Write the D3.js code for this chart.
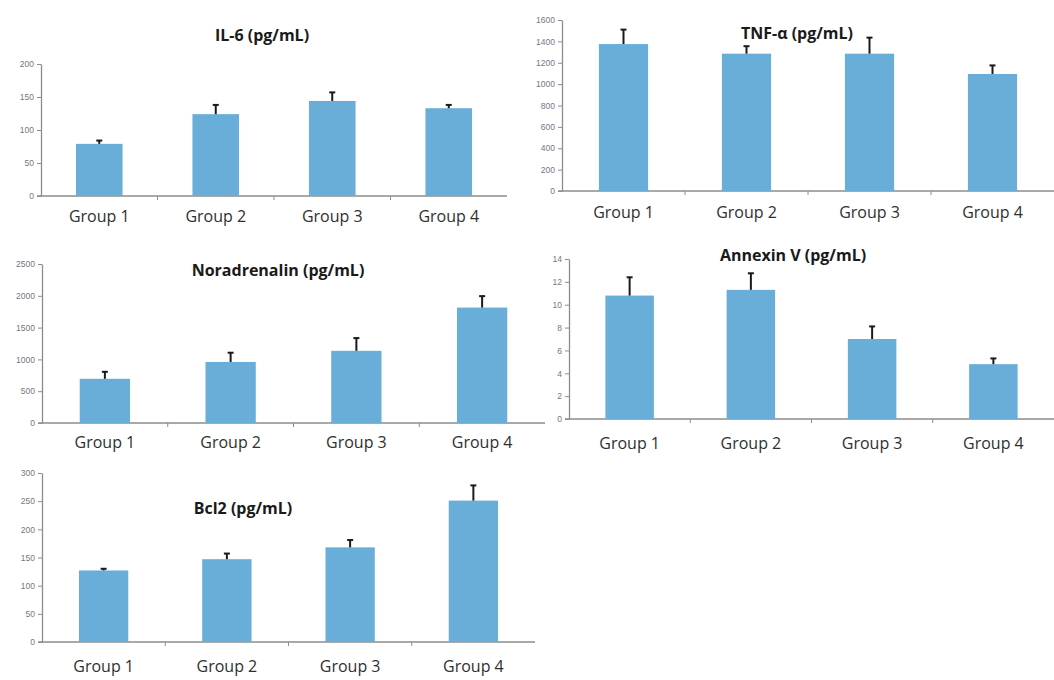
<!DOCTYPE html>
<html>
<head>
<meta charset="utf-8">
<script src="https://cdn.jsdelivr.net/npm/d3@7"></script>
<style>
  body { margin: 0; background: #fff; }
  svg { display: block; }
</style>
</head>
<body>
<div id="chart"></div>
<script>
'use strict';

// data
var groups = ["Group 1", "Group 2", "Group 3", "Group 4"];

var il6Mean = [79, 124, 144, 133];
var il6Err  = [5, 14, 13, 5];
var il6Ticks = [0, 50, 100, 150, 200];

var tnfMean = [1375, 1285, 1285, 1095];
var tnfErr  = [135, 70, 150, 80];
var tnfTicks = [0, 200, 400, 600, 800, 1000, 1200, 1400, 1600];

var noraMean = [695, 960, 1135, 1815];
var noraErr  = [110, 145, 200, 180];
var noraTicks = [0, 500, 1000, 1500, 2000, 2500];

var annexMean = [10.8, 11.3, 7.0, 4.8];
var annexErr  = [1.6, 1.45, 1.1, 0.5];
var annexTicks = [0, 2, 4, 6, 8, 10, 12, 14];

var bcl2Mean = [127, 147, 168, 251];
var bcl2Err  = [3, 10, 13, 27];
var bcl2Ticks = [0, 50, 100, 150, 200, 250, 300];

// layout of each panel (pixels)
var panels = [
    { title: "IL-6 (pg/mL)", mean: il6Mean, err: il6Err, ticks: il6Ticks,
      x0: 41, x1: 507, yTop: 64, yBot: 196, tx: 262, ty: 35, ly: 216 },
    { title: "TNF-\u03b1 (pg/mL)", mean: tnfMean, err: tnfErr, ticks: tnfTicks,
      x0: 562, x1: 1054, yTop: 20, yBot: 191, tx: 797, ty: 33, ly: 212 },
    { title: "Noradrenalin (pg/mL)", mean: noraMean, err: noraErr, ticks: noraTicks,
      x0: 42, x1: 545, yTop: 264, yBot: 423, tx: 278, ty: 270, ly: 442 },
    { title: "Annexin V (pg/mL)", mean: annexMean, err: annexErr, ticks: annexTicks,
      x0: 569, x1: 1054, yTop: 259, yBot: 419, tx: 793, ty: 255, ly: 443 },
    { title: "Bcl2 (pg/mL)", mean: bcl2Mean, err: bcl2Err, ticks: bcl2Ticks,
      x0: 42, x1: 535, yTop: 473, yBot: 642, tx: 243, ty: 508, ly: 666 }
];

var width = 1054, height = 680;
var barColor = "#69aed9";
var axisColor = "#8c8c8c";

var svg = d3.select("#chart")
    .append("svg")
    .attr("width", width)
    .attr("height", height);

panels.forEach(function (p) {

    var x = d3.scaleBand()
        .domain(groups)
        .range([p.x0, p.x1])
        .padding(0);

    var y = d3.scaleLinear()
        .domain([0, p.ticks[p.ticks.length - 1]])
        .range([p.yBot, p.yTop]);

    var g = svg.append("g");

    // y axis
    var yAxis = g.append("g")
        .attr("transform", "translate(" + p.x0 + ",0)")
        .call(d3.axisLeft(y).tickValues(p.ticks).tickSize(4).tickSizeOuter(0).tickFormat(d3.format("d")));
    yAxis.select(".domain").attr("stroke", axisColor).attr("stroke-width", 1.3);
    yAxis.selectAll(".tick line").attr("stroke", axisColor);
    yAxis.selectAll(".tick text")
        .attr("fill", "#767682")
        .style("font-family", "'Liberation Sans', Arial, sans-serif")
        .style("font-size", "8.5px");

    // x axis baseline and category separators
    g.append("line")
        .attr("x1", p.x0 - 4).attr("x2", p.x1)
        .attr("y1", p.yBot).attr("y2", p.yBot)
        .attr("stroke", axisColor)
        .attr("stroke-width", 1.3);

    g.selectAll(".sep")
        .data(groups.slice(1))
        .enter().append("line")
        .attr("class", "sep")
        .attr("x1", function (d) { return x(d); })
        .attr("x2", function (d) { return x(d); })
        .attr("y1", p.yBot)
        .attr("y2", p.yBot + 4)
        .attr("stroke", axisColor);

    var bw = x.bandwidth() * 0.4;

    // bars
    g.selectAll(".bar")
        .data(p.mean)
        .enter().append("rect")
        .attr("class", "bar")
        .attr("x", function (d, i) { return x(groups[i]) + (x.bandwidth() - bw) / 2; })
        .attr("y", function (d) { return y(d); })
        .attr("width", bw)
        .attr("height", function (d) { return p.yBot - y(d); })
        .attr("fill", barColor);

    // error bars (upper only)
    var eb = g.selectAll(".err")
        .data(p.mean)
        .enter().append("g")
        .attr("class", "err")
        .attr("stroke", "#1a1a1a")
        .attr("stroke-width", 2);

    eb.append("line")
        .attr("x1", function (d, i) { return x(groups[i]) + x.bandwidth() / 2; })
        .attr("x2", function (d, i) { return x(groups[i]) + x.bandwidth() / 2; })
        .attr("y1", function (d) { return y(d); })
        .attr("y2", function (d, i) { return y(d + p.err[i]); });

    eb.append("line")
        .attr("x1", function (d, i) { return x(groups[i]) + x.bandwidth() / 2 - 3; })
        .attr("x2", function (d, i) { return x(groups[i]) + x.bandwidth() / 2 + 3; })
        .attr("y1", function (d, i) { return y(d + p.err[i]); })
        .attr("y2", function (d, i) { return y(d + p.err[i]); });

    // category labels
    g.selectAll(".cat")
        .data(groups)
        .enter().append("text")
        .attr("class", "cat")
        .attr("x", function (d) { return x(d) + x.bandwidth() / 2; })
        .attr("y", p.ly)
        .attr("dy", "0.35em")
        .attr("text-anchor", "middle")
        .attr("fill", "#2f2f2f")
        .style("font-family", "'Open Sans', sans-serif")
        .style("font-size", "16px")
        .text(function (d) { return d; });

    // title
    g.append("text")
        .attr("x", p.tx)
        .attr("y", p.ty)
        .attr("dy", "0.35em")
        .attr("text-anchor", "middle")
        .attr("fill", "#1a1a1a")
        .style("font-family", "'Open Sans', sans-serif")
        .style("font-weight", "bold")
        .style("font-size", "16px")
        .text(p.title);
});
</script>
</body>
</html>
